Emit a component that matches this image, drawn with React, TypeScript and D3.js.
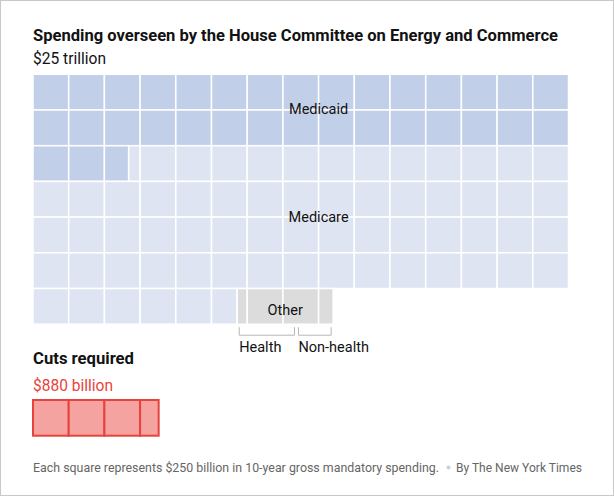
import React from "react";
import * as d3 from "d3";

const categories = ["Medicaid", "Medicare", "Other"];
const categoryValues = [8170, 15760, 672]; // billions
const otherParts = ["Health", "Non-health"];
const otherPartValues = [415, 257];
const cutsValue = 880;
const unitValue = 250;
const colors = ["#c1cfe9", "#dfe4f2", "#dcdcdc"];

const W = 614;
const H = 496;
const CELL = 35.7;
const COLS = 15;
const ROWS = 7;
const X0 = 33;
const Y0 = 74.3;

type Cell = { key: string; x: number; y: number; w: number; h: number; fill: string };

export default function App() {
  const x = d3.scaleLinear().domain([0, COLS]).range([X0, X0 + COLS * CELL]);
  const y = d3.scaleLinear().domain([0, ROWS]).range([Y0, Y0 + ROWS * CELL]);

  const cells: Cell[] = [];
  let cum = 0;
  const ranges: { s: number; e: number }[] = [];
  categories.forEach((c, ci) => {
    const s = cum;
    const e = cum + categoryValues[ci] / unitValue;
    ranges.push({ s, e });
    for (let i = Math.floor(s); i < e; i++) {
      const a = Math.max(s, i);
      const b = Math.min(e, i + 1);
      const row = Math.floor(i / COLS);
      const col = i % COLS;
      cells.push({
        key: c + i,
        x: x(col + (a - i)),
        y: y(row),
        w: x(b - a) - x(0),
        h: CELL,
        fill: colors[ci],
      });
    }
    cum = e;
  });

  const posX = (u: number) => x(u % COLS);
  const other = ranges[2];
  const otherMidX = (posX(other.s) + posX(other.e)) / 2;
  const otherRow = Math.floor(other.s / COLS);

  let oc = other.s;
  const brackets = otherParts.map((p, i) => {
    const s = oc;
    const e = oc + otherPartValues[i] / unitValue;
    oc = e;
    return { label: p, x1: posX(s) + 2, x2: posX(e) - 2 };
  });
  const by = y(otherRow + 1);

  const cutUnits = cutsValue / unitValue;
  const cutCells: Cell[] = [];
  const cutY = 400;
  for (let i = 0; i < cutUnits; i++) {
    const w = Math.min(1, cutUnits - i);
    cutCells.push({ key: "cut" + i, x: x(i), y: cutY, w: x(w) - x(0), h: CELL, fill: "#f5a3a0" });
  }

  const font = "Roboto, 'Liberation Sans', Arial, sans-serif";

  return (
    <div style={{ position: "absolute", left: 0, top: 0 }}>
      <svg width={W} height={H} style={{ display: "block" }}>
        <rect x={0.5} y={0.5} width={W - 1} height={H - 1} fill="#fff" stroke="#c8c8c8" />
        <text x={33} y={41} fontFamily={font} fontWeight={700} fontSize={16.5} fill="#121212"
          textLength={525} lengthAdjust="spacingAndGlyphs">
          Spending overseen by the House Committee on Energy and Commerce
        </text>
        <text x={33} y={64} fontFamily={font} fontSize={16} fill="#121212"
          textLength={73} lengthAdjust="spacingAndGlyphs">$25 trillion</text>

        {cells.map((c) => (
          <rect key={c.key} x={c.x} y={c.y} width={c.w} height={c.h} fill={c.fill}
            stroke="#fff" strokeWidth={1.5} />
        ))}

        <text x={x(8)} y={y(1)} dy="-0.02em" textAnchor="middle" dominantBaseline="central"
          fontFamily={font} fontSize={14.5} fill="#121212">Medicaid</text>
        <text x={x(8)} y={y(4)} dy="0.03em" textAnchor="middle" dominantBaseline="central"
          fontFamily={font} fontSize={14.5} fill="#121212">Medicare</text>
        <text x={otherMidX} y={y(otherRow + 0.5)} dy="0.3em" textAnchor="middle" dominantBaseline="central"
          fontFamily={font} fontSize={14.5} fill="#121212">Other</text>

        {brackets.map((b) => (
          <g key={b.label}>
            <path d={`M${b.x1},${by + 3}V${by + 11}H${b.x2}V${by + 3}`} fill="none" stroke="#b5b5b5" strokeWidth={1} />
            <text x={b.x1} y={by + 28} fontFamily={font} fontSize={14.5} fill="#121212">{b.label}</text>
          </g>
        ))}

        <text x={33} y={364} fontFamily={font} fontWeight={700} fontSize={16.5} fill="#121212"
          textLength={101} lengthAdjust="spacingAndGlyphs">Cuts required</text>
        <text x={33} y={390.5} fontFamily={font} fontSize={16} fill="#e8433b"
          textLength={80} lengthAdjust="spacingAndGlyphs">$880 billion</text>
        {cutCells.map((c) => (
          <rect key={c.key} x={c.x} y={c.y} width={c.w} height={c.h} fill={c.fill}
            stroke="#e8433b" strokeWidth={2} />
        ))}

        <text x={33} y={472} fontFamily={font} fontSize={13} fill="#666"
          textLength={406} lengthAdjust="spacingAndGlyphs">
          Each square represents $250 billion in 10-year gross mandatory spending.
        </text>
        <circle cx={448.5} cy={467.5} r={2} fill="#d0d0d0" />
        <text x={456} y={472} fontFamily={font} fontSize={13} fill="#666"
          textLength={126} lengthAdjust="spacingAndGlyphs">By The New York Times</text>
      </svg>
    </div>
  );
}
